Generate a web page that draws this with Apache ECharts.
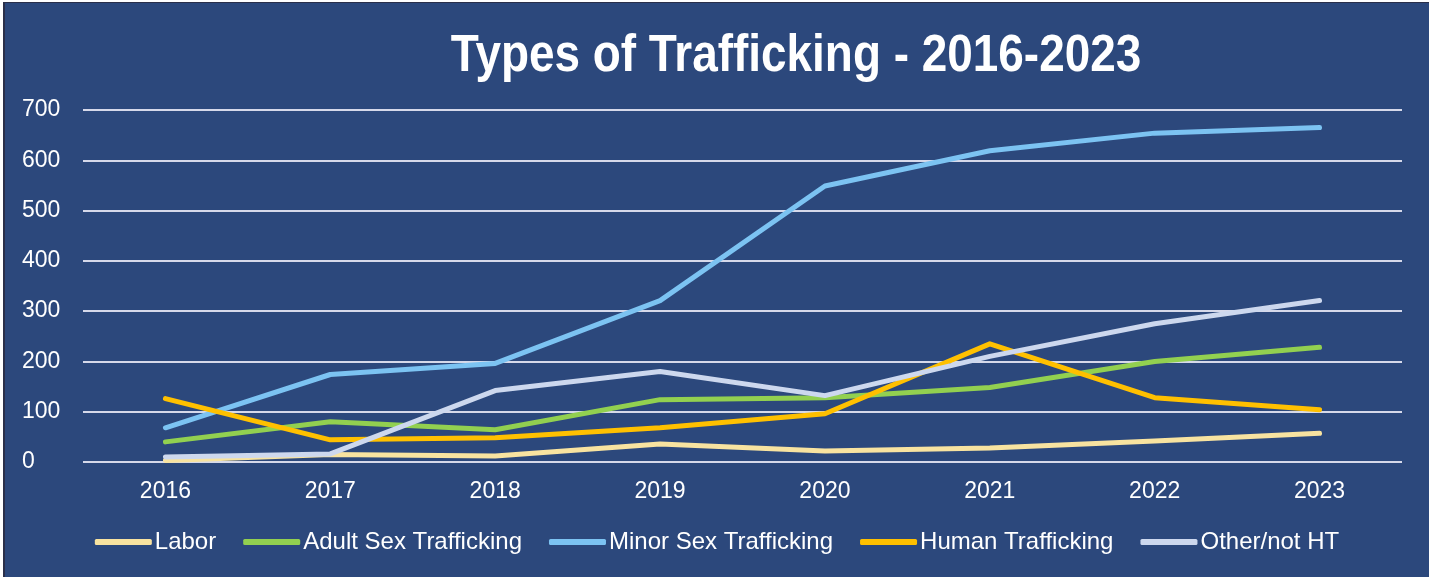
<!DOCTYPE html>
<html>
<head>
<meta charset="utf-8">
<style>
  html, body { margin: 0; padding: 0; background: #ffffff; }
  #chart { position: absolute; left: 3px; top: 2px; width: 1424px; height: 574px;
           border-left: 2px solid #2a2f4a; border-top: 1px solid #2a2f4a; }
</style>
<script src="https://cdn.jsdelivr.net/npm/echarts@6/dist/echarts.min.js"></script>
</head>
<body>
<div id="chart"></div>
<script>
// 年份（横轴）
const years = ['2016', '2017', '2018', '2019', '2020', '2021', '2022', '2023'];
// 各类型数值
const labor = [3, 15, 12, 36, 22, 28, 42, 57];
const adultSex = [40, 80, 64, 124, 128, 148, 200, 228];
const minorSex = [68, 174, 196, 321, 549, 619, 654, 665];
const human = [126, 44, 48, 68, 96, 235, 128, 104];
const otherNotHT = [10, 16, 142, 180, 132, 210, 275, 321];

const chart = echarts.init(document.getElementById('chart'));

function line(name, data, color) {
  return {
    name: name,
    type: 'line',
    data: data,
    symbol: 'none',
    lineStyle: { width: 5, color: color, cap: 'round', join: 'round' },
    itemStyle: { color: color }
  };
}

chart.setOption({
  backgroundColor: '#2c487c',
  animation: false,
  // 标题用窄体效果：横向压缩的粗体文字
  graphic: [{
    type: 'text',
    x: 791,
    y: 54,
    scaleX: 0.9,
    style: {
      text: 'Types of Trafficking - 2016-2023',
      fill: '#ffffff',
      font: 'bold 51px "Liberation Sans"',
      textAlign: 'center',
      textVerticalAlign: 'middle'
    }
  }],
  grid: { left: 78, right: 27, top: 107, bottom: 115 },
  legend: {
    bottom: 18,
    left: 'center',
    itemWidth: 57,
    itemHeight: 6,
    itemGap: 27,
    icon: 'roundRect',
    textStyle: { color: '#ffffff', fontSize: 24, fontFamily: 'Liberation Sans', padding: [0, 0, 0, -2] },
    data: ['Labor', 'Adult Sex Trafficking', 'Minor Sex Trafficking', 'Human Trafficking', 'Other/not HT']
  },
  xAxis: {
    type: 'category',
    data: years,
    boundaryGap: true,
    axisLine: { show: false },
    axisTick: { show: false },
    axisLabel: { color: '#ffffff', fontSize: 23, margin: 18, fontFamily: 'Liberation Sans' }
  },
  yAxis: {
    type: 'value',
    min: 0,
    max: 700,
    interval: 100,
    axisLine: { show: false },
    axisTick: { show: false },
    axisLabel: { color: '#ffffff', fontSize: 23, margin: 20, align: 'left', padding: [0, 0, 0, -41], fontFamily: 'Liberation Sans' },
    splitLine: { lineStyle: { color: '#d6d9ea', width: 2 } }
  },
  series: [
    line('Labor', labor, '#f8e3a0'),
    line('Adult Sex Trafficking', adultSex, '#92d050'),
    line('Minor Sex Trafficking', minorSex, '#7cc3f2'),
    line('Human Trafficking', human, '#ffc000'),
    line('Other/not HT', otherNotHT, '#cdd8ee')
  ]
});
</script>
</body>
</html>
